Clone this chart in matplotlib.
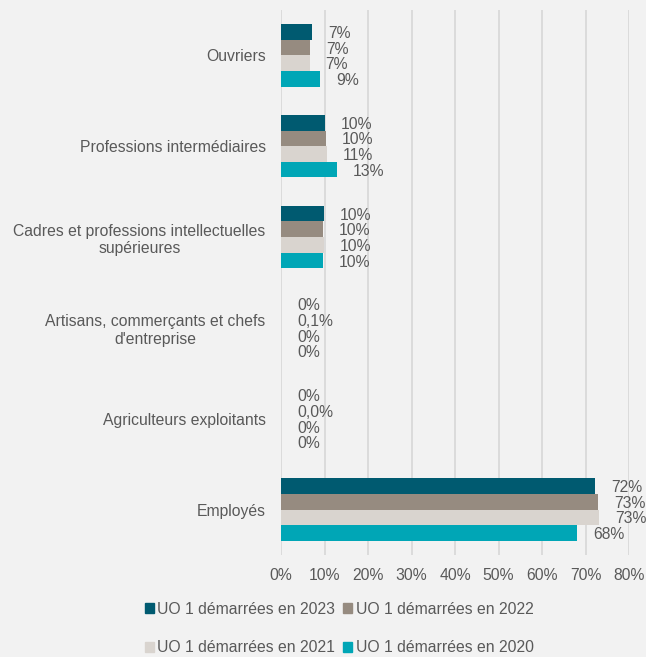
import numpy as np
import matplotlib.pyplot as plt
from matplotlib.patches import Patch

plt.rcParams['font.family'] = ['Liberation Sans', 'DejaVu Sans']

categories = ["Ouvriers",
              "Professions intermédiaires",
              "Cadres et professions intellectuelles\nsupérieures",
              "Artisans, commerçants et chefs\nd'entreprise",
              "Agriculteurs exploitants",
              "Employés"]

# shares in %, one list per cohort
uo_2023 = [7.1, 10.1, 9.9, 0.0, 0.0, 72.2]
uo_2022 = [6.7, 10.3, 9.7, 0.1, 0.0, 72.9]
uo_2021 = [6.6, 10.6, 9.9, 0.0, 0.0, 73.1]
uo_2020 = [9.0, 12.9, 9.7, 0.0, 0.0, 68.0]
decimals_2022 = [0, 0, 0, 1, 1, 0]

series = [("UO 1 démarrées en 2023", uo_2023, "#005a70"),
          ("UO 1 démarrées en 2022", uo_2022, "#968b80"),
          ("UO 1 démarrées en 2021", uo_2021, "#d9d4cf"),
          ("UO 1 démarrées en 2020", uo_2020, "#00a6b6")]

bg = "#f2f2f2"
txt = "#595959"
fs = 11.3

fig = plt.figure(figsize=(6.46, 6.57), dpi=100, facecolor=bg)
ax = fig.add_axes([281/646, 1-555/657, 348/646, 545/657], facecolor=bg)

y = np.arange(len(categories))
h = 0.172
for i, (name, vals, col) in enumerate(series):
    pos = y + (i - 1.5) * h
    ax.barh(pos, vals, height=h, color=col, label=name, zorder=3)
    for j, (p, v) in enumerate(zip(pos, vals)):
        nd = decimals_2022[j] if i == 1 else 0
        lab = f"{v:.{nd}f}".replace(".", ",") + "%"
        ax.annotate(lab, (v, p), xytext=(16, -1.5), textcoords="offset pixels",
                    ha="left", va="center", fontsize=fs, color=txt)

ax.set_xlim(0, 80)
ax.set_ylim(len(categories) - 0.5, -0.5)
ax.set_xticks(np.arange(0, 81, 10))
ax.set_xticklabels([f"{t}%" for t in range(0, 81, 10)])
ax.set_yticks(y)
ax.set_yticklabels(categories, multialignment="center")
ax.tick_params(length=0, labelsize=fs, colors=txt)
ax.tick_params(axis="y", pad=11)
ax.tick_params(axis="x", pad=9)
ax.grid(axis="x", color="#d9d9d9", linewidth=1.3, zorder=0)
for s in ax.spines.values():
    s.set_visible(False)

# legend fills column by column, so reorder to read row by row
order = [0, 2, 1, 3]
handles = [Patch(color=series[k][2]) for k in order]
labels = [series[k][0] for k in order]
fig.legend(handles, labels, ncol=2, loc="lower center",
           bbox_to_anchor=(0.525, -0.019), frameon=False, fontsize=fs,
           labelcolor=txt, handlelength=0.6, handleheight=0.6,
           handletextpad=0.2, columnspacing=0.5, labelspacing=1.5)

fig.savefig("out.png", dpi=100, facecolor=bg)
